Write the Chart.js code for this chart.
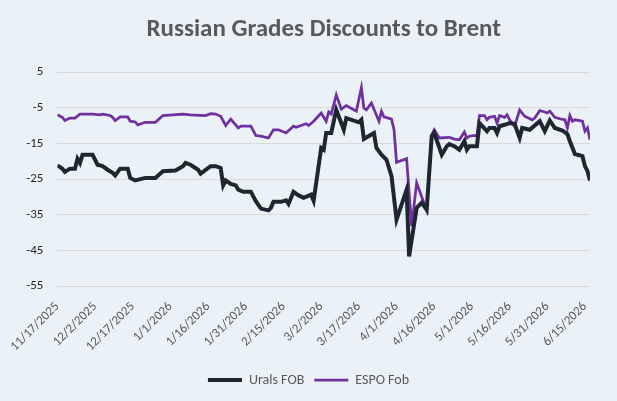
<!DOCTYPE html>
<html>
<head>
<meta charset="utf-8">
<script src="https://cdn.jsdelivr.net/npm/chart.js@4/dist/chart.umd.min.js"></script>
<style>
  html, body { margin: 0; padding: 0; background: #eaf2f8; }
  #wrap { width: 617px; height: 401px; }
</style>
</head>
<body>
<div id="wrap"><canvas id="chart"></canvas></div>
<script>
const uralsDates = [
  "2025-11-17", "2025-11-19", "2025-11-20", "2025-11-22", "2025-11-24", "2025-11-25", "2025-11-26", "2025-11-27",
  "2025-12-01", "2025-12-03", "2025-12-05", "2025-12-07", "2025-12-09", "2025-12-10", "2025-12-12", "2025-12-15",
  "2025-12-16", "2025-12-18", "2025-12-22", "2025-12-26", "2025-12-29", "2026-01-03", "2026-01-06", "2026-01-07",
  "2026-01-09", "2026-01-12", "2026-01-13", "2026-01-17", "2026-01-19", "2026-01-21", "2026-01-22", "2026-01-23",
  "2026-01-25", "2026-01-27", "2026-01-28", "2026-01-30", "2026-02-02", "2026-02-04", "2026-02-06", "2026-02-09",
  "2026-02-10", "2026-02-11", "2026-02-14", "2026-02-16", "2026-02-17", "2026-02-19", "2026-02-21", "2026-02-23",
  "2026-02-26", "2026-02-27", "2026-03-02", "2026-03-03", "2026-03-04", "2026-03-06", "2026-03-08", "2026-03-11",
  "2026-03-12", "2026-03-17", "2026-03-18", "2026-03-19", "2026-03-23", "2026-03-24", "2026-03-26", "2026-03-28",
  "2026-03-30", "2026-04-01", "2026-04-05", "2026-04-06", "2026-04-09", "2026-04-11", "2026-04-13", "2026-04-15",
  "2026-04-16", "2026-04-19", "2026-04-21", "2026-04-22", "2026-04-24", "2026-04-26", "2026-04-28", "2026-04-29",
  "2026-04-30", "2026-05-03", "2026-05-04", "2026-05-07", "2026-05-08", "2026-05-10", "2026-05-11", "2026-05-12",
  "2026-05-14", "2026-05-16", "2026-05-18", "2026-05-20", "2026-05-21", "2026-05-24", "2026-05-28", "2026-05-30",
  "2026-06-01", "2026-06-03", "2026-06-06", "2026-06-08", "2026-06-09", "2026-06-11", "2026-06-14", "2026-06-15",
  "2026-06-16", "2026-06-17"
];
const uralsValues = [
  -21.2, -22.1, -23.0, -22.1, -22.1, -19.3, -20.5, -18.2,
  -18.2, -21.0, -21.4, -22.4, -23.3, -24.0, -22.1, -22.1,
  -24.7, -25.4, -24.7, -24.7, -22.8, -22.6, -21.4, -20.5,
  -21.0, -22.4, -23.5, -21.4, -21.4, -21.9, -26.8, -25.4,
  -26.4, -26.8, -28.0, -28.6, -28.6, -31.2, -33.3, -33.8,
  -33.1, -31.4, -31.4, -31.0, -32.0, -28.6, -29.6, -30.3,
  -29.4, -31.1, -16.3, -16.8, -12.1, -12.1, -5.6, -11.2,
  -7.9, -9.1, -8.4, -13.8, -12.1, -16.3, -18.2, -19.6,
  -24.2, -36.4, -28.0, -46.7, -33.1, -31.7, -33.6, -13.0,
  -12.1, -18.2, -15.8, -15.2, -15.8, -16.8, -14.4, -16.8,
  -15.8, -15.8, -9.3, -11.6, -10.7, -10.7, -12.1, -10.2,
  -9.8, -9.3, -9.6, -13.5, -10.7, -11.2, -8.8, -11.6,
  -8.6, -10.7, -11.4, -12.4, -14.4, -18.0, -18.6, -21.4,
  -22.8, -25.4
];

const espoDates = [
  "2025-11-17", "2025-11-19", "2025-11-20", "2025-11-22", "2025-11-24", "2025-11-26", "2025-12-01", "2025-12-04",
  "2025-12-05", "2025-12-08", "2025-12-09", "2025-12-10", "2025-12-12", "2025-12-15", "2025-12-16", "2025-12-18",
  "2025-12-19", "2025-12-22", "2025-12-26", "2025-12-29", "2026-01-06", "2026-01-09", "2026-01-15", "2026-01-17",
  "2026-01-19", "2026-01-21", "2026-01-23", "2026-01-25", "2026-01-28", "2026-01-29", "2026-02-02", "2026-02-04",
  "2026-02-06", "2026-02-09", "2026-02-11", "2026-02-13", "2026-02-16", "2026-02-19", "2026-02-20", "2026-02-24",
  "2026-02-25", "2026-02-27", "2026-03-02", "2026-03-04", "2026-03-05", "2026-03-06", "2026-03-08", "2026-03-10",
  "2026-03-12", "2026-03-16", "2026-03-18", "2026-03-19", "2026-03-20", "2026-03-22", "2026-03-25", "2026-03-26",
  "2026-03-27", "2026-03-30", "2026-03-31", "2026-04-01", "2026-04-05", "2026-04-07", "2026-04-09", "2026-04-13",
  "2026-04-15", "2026-04-16", "2026-04-18", "2026-04-22", "2026-04-24", "2026-04-26", "2026-04-28", "2026-04-29",
  "2026-04-30", "2026-05-02", "2026-05-03", "2026-05-04", "2026-05-06", "2026-05-07", "2026-05-08", "2026-05-10",
  "2026-05-11", "2026-05-12", "2026-05-14", "2026-05-15", "2026-05-16", "2026-05-18", "2026-05-20", "2026-05-22",
  "2026-05-25", "2026-05-26", "2026-05-28", "2026-05-30", "2026-05-31", "2026-06-01", "2026-06-03", "2026-06-05",
  "2026-06-07", "2026-06-08", "2026-06-09", "2026-06-10", "2026-06-11", "2026-06-14", "2026-06-15", "2026-06-16",
  "2026-06-17"
];
const espoValues = [
  -7.0, -7.7, -8.6, -7.9, -7.9, -6.8, -6.8, -7.0,
  -6.8, -7.2, -7.7, -8.6, -7.6, -7.6, -8.8, -9.0,
  -9.8, -9.1, -9.1, -7.2, -6.8, -7.0, -7.2, -6.7,
  -6.8, -7.4, -10.0, -8.2, -10.7, -10.2, -10.2, -12.8,
  -13.0, -13.5, -11.2, -11.2, -12.1, -10.2, -10.5, -9.5,
  -10.0, -8.8, -6.5, -8.8, -6.2, -6.8, -1.4, -5.4,
  -4.4, -6.0, 0.6, -5.1, -5.6, -3.7, -8.8, -6.0,
  -7.6, -8.2, -11.2, -20.3, -19.3, -38.2, -26.1, -33.8,
  -12.6, -11.2, -13.5, -13.3, -13.8, -14.0, -11.8, -13.5,
  -13.0, -12.8, -13.0, -7.2, -7.2, -8.4, -7.7, -7.4,
  -9.3, -7.2, -7.7, -7.0, -8.4, -10.2, -5.6, -7.4,
  -8.4, -7.9, -5.8, -6.2, -6.5, -6.0, -7.7, -8.1,
  -8.4, -10.7, -7.2, -8.8, -8.4, -8.8, -11.6, -10.7,
  -14.0
];

const yTicks = [5, -5, -15, -25, -35, -45, -55];

const START = Date.UTC(2025, 10, 17);
const DAY = 86400000;
const END_DAY = 212;

function dayOf(iso) {
  const [y, m, d] = iso.split("-").map(Number);
  return Math.round((Date.UTC(y, m - 1, d) - START) / DAY);
}

function tickDate(val) {
  const dt = new Date(START + val * DAY);
  return `${dt.getUTCMonth() + 1}/${dt.getUTCDate()}/${dt.getUTCFullYear()}`;
}

const toPoints = (dates, values) => dates.map((d, i) => ({ x: dayOf(d), y: values[i] }));

const bgPlugin = {
  id: "bg",
  beforeDraw(chart) {
    const { ctx, width, height } = chart;
    ctx.save();
    ctx.fillStyle = "#eaf2f8";
    ctx.fillRect(0, 0, width, height);
    ctx.restore();
  },
};

const FONT = "Carlito, Calibri, Lato, sans-serif";

new Chart(document.getElementById("chart"), {
  type: "line",
  data: {
    datasets: [
      {
        label: "Urals FOB",
        data: toPoints(uralsDates, uralsValues),
        borderColor: "#1f2632",
        backgroundColor: "#1f2632",
        borderWidth: 4,
        pointRadius: 0,
        tension: 0,
      },
      {
        label: "ESPO Fob",
        data: toPoints(espoDates, espoValues),
        borderColor: "#7030a0",
        backgroundColor: "#7030a0",
        borderWidth: 2.75,
        pointRadius: 0,
        tension: 0,
      },
    ],
  },
  options: {
    responsive: true,
    maintainAspectRatio: false,
    animation: false,
    layout: { padding: { left: 0, right: 0, top: 0, bottom: 4 } },
    plugins: {
      tooltip: { enabled: false },
      title: {
        display: true,
        fullSize: false, // centre it over the plot, like the original
        text: "Russian Grades Discounts to Brent",
        color: "#595959",
        font: { family: FONT, size: 25, weight: "bold" },
        padding: { top: 15, bottom: 27 },
      },
      legend: {
        position: "bottom",
        labels: {
          usePointStyle: true,
          pointStyle: "line",
          pointStyleWidth: 34,
          color: "#595959",
          font: { family: FONT, size: 14 },
          padding: 10,
        },
      },
    },
    scales: {
      x: {
        type: "linear",
        min: 0,
        max: END_DAY,
        afterBuildTicks: (scale) => {
          scale.ticks = [];
          for (let v = 0; v <= 210; v += 15) scale.ticks.push({ value: v });
        },
        afterFit: (scale) => {
          scale.height = 77;
        },
        grid: { display: false, drawTicks: false },
        border: { display: false },
        ticks: {
          autoSkip: false,
          maxRotation: 45,
          minRotation: 45,
          padding: 13,
          color: "#595959",
          font: { family: FONT, size: 13 },
          callback: (val) => tickDate(val),
        },
      },
      y: {
        min: -55,
        max: 5,
        afterBuildTicks: (scale) => {
          scale.ticks = yTicks.map((v) => ({ value: v }));
        },
        afterFit: (scale) => {
          scale.width = 57;
        },
        grid: { color: "#d9d9d9", drawTicks: false },
        border: { display: false },
        ticks: {
          padding: 14,
          color: "#262626",
          font: { family: FONT, size: 13 },
        },
      },
      // empty right-hand strip so the plot stops short of the edge
      gap: {
        position: "right",
        min: -55,
        max: 5,
        afterFit: (scale) => {
          scale.width = 27;
        },
        grid: { display: false, drawTicks: false },
        border: { display: false },
        ticks: { display: false },
      },
    },
  },
  plugins: [bgPlugin],
});
</script>
</body>
</html>
